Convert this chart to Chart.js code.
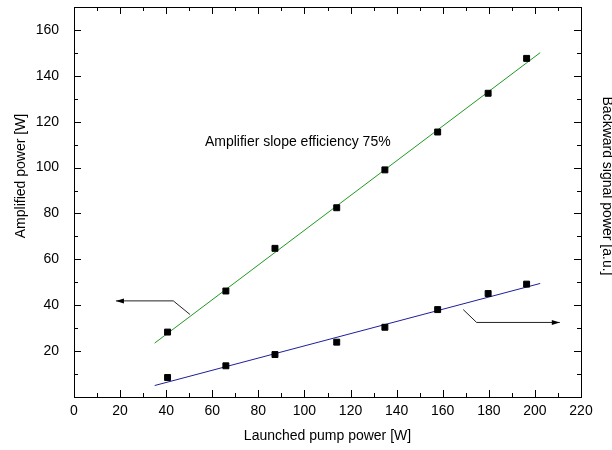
<!DOCTYPE html>
<html>
<head>
<meta charset="utf-8">
<script src="https://cdn.jsdelivr.net/npm/chart.js@4.4.0/dist/chart.umd.min.js"></script>
<style>
  html, body { margin: 0; padding: 0; background: #fff; }
</style>
</head>
<body>
<canvas id="ampChart" width="612" height="450"></canvas>
<script>
// measured points
const pumpPower = [40.6, 65.9, 87.2, 114.0, 134.9, 157.8, 179.7, 196.4];
const amplifiedPower = [28.3, 46.2, 64.8, 82.5, 99.0, 115.5, 132.4, 147.6];
const backwardSignal = [8.5, 13.6, 18.5, 23.9, 30.4, 38.1, 45.1, 49.2];

// linear fits (start / end)
const fitX = [35.0, 202.3];
const amplifiedFit = [23.5, 150.1];
const backwardFit = [5.0, 49.5];

// arrows pointing to the axis of each curve (last point = tip)
const leftArrowX = [50.3, 43.1, 18.2];
const leftArrowY = [36.0, 41.9, 41.9];
const rightArrowX = [168.9, 174.7, 210.8];
const rightArrowY = [38.1, 32.5, 32.5];

// tick labels
const xTickValues = [0, 20, 40, 60, 80, 100, 120, 140, 160, 180, 200, 220];
const yTickValues = [20, 40, 60, 80, 100, 120, 140, 160];

const noteText = 'Amplifier slope efficiency 75%';
const noteAt = [56.8, 111.3];

const FONT = '"Liberation Sans", Arial, sans-serif';
Chart.defaults.font.family = FONT;
Chart.defaults.color = '#000';

const toPoints = (xs, ys) => xs.map((v, i) => ({ x: v, y: ys[i] }));

// frame with inward ticks, arrows and texts
const frameTicks = {
  id: 'frameTicks',
  afterDraw(chart) {
    const { ctx, chartArea: a } = chart;
    const xs = chart.scales.x;
    const ys = chart.scales.y;
    ctx.save();
    ctx.strokeStyle = '#000';
    ctx.lineWidth = 1;
    ctx.strokeRect(a.left + 0.5, a.top + 0.5, a.right - a.left, a.bottom - a.top);

    ctx.beginPath();
    for (let v = 10; v < 220; v += 10) {
      const len = v % 20 === 0 ? 7 : 4;
      const px = Math.round(xs.getPixelForValue(v)) + 0.5;
      ctx.moveTo(px, a.bottom); ctx.lineTo(px, a.bottom - len);
      ctx.moveTo(px, a.top); ctx.lineTo(px, a.top + len);
    }
    for (let v = 10; v < 170; v += 10) {
      const len = v % 20 === 0 ? 7 : 4;
      const py = Math.round(ys.getPixelForValue(v)) + 0.5;
      ctx.moveTo(a.left, py); ctx.lineTo(a.left + len, py);
      ctx.moveTo(a.right, py); ctx.lineTo(a.right - len, py);
    }
    ctx.stroke();

    // arrows
    const drawArrow = (axs, ays) => {
      const pts = axs.map((v, i) => [xs.getPixelForValue(v), ys.getPixelForValue(ays[i])]);
      ctx.strokeStyle = '#222';
      ctx.fillStyle = '#000';
      ctx.beginPath();
      pts.forEach((p, i) => i ? ctx.lineTo(p[0], p[1]) : ctx.moveTo(p[0], p[1]));
      ctx.stroke();
      const [tx, ty] = pts[pts.length - 1];
      const [bx, by] = pts[pts.length - 2];
      const ang = Math.atan2(ty - by, tx - bx);
      ctx.save();
      ctx.translate(tx, ty);
      ctx.rotate(ang);
      ctx.beginPath();
      ctx.moveTo(0, 0);
      ctx.lineTo(-8, -2.5);
      ctx.lineTo(-8, 2.5);
      ctx.closePath();
      ctx.fill();
      ctx.restore();
    };
    drawArrow(leftArrowX, leftArrowY);
    drawArrow(rightArrowX, rightArrowY);

    // note
    ctx.fillStyle = '#000';
    ctx.font = '14px ' + FONT;
    ctx.textAlign = 'left';
    ctx.textBaseline = 'middle';
    ctx.fillText(noteText, xs.getPixelForValue(noteAt[0]), ys.getPixelForValue(noteAt[1]));

    // axis titles (left and right)
    ctx.textAlign = 'center';
    ctx.save();
    ctx.translate(21, 176);
    ctx.rotate(-Math.PI / 2);
    ctx.fillText('Amplified power [W]', 0, 0);
    ctx.restore();
    ctx.save();
    ctx.translate(607, 186);
    ctx.rotate(Math.PI / 2);
    ctx.fillText('Backward signal power [a.u.]', 0, 0);
    ctx.restore();
    ctx.restore();
  }
};

new Chart(document.getElementById('ampChart'), {
  type: 'scatter',
  data: {
    datasets: [
      {
        label: 'Amplified power',
        data: toPoints(pumpPower, amplifiedPower),
        pointStyle: 'rect',
        pointRadius: 4.2,
        backgroundColor: '#000',
        borderColor: '#000',
        borderWidth: 1
      },
      {
        label: 'Backward signal',
        data: toPoints(pumpPower, backwardSignal),
        pointStyle: 'rect',
        pointRadius: 4.2,
        backgroundColor: '#000',
        borderColor: '#000',
        borderWidth: 1
      },
      {
        label: 'Amplified fit',
        data: toPoints(fitX, amplifiedFit),
        showLine: true,
        borderColor: '#1f9a1f',
        borderWidth: 1,
        pointRadius: 0
      },
      {
        label: 'Backward fit',
        data: toPoints(fitX, backwardFit),
        showLine: true,
        borderColor: '#1e1e9c',
        borderWidth: 1,
        pointRadius: 0
      }
    ]
  },
  options: {
    responsive: false,
    animation: false,
    layout: { padding: { top: 7, right: 31, left: 0, bottom: 0 } },
    plugins: {
      legend: { display: false },
      tooltip: { enabled: false }
    },
    scales: {
      x: {
        type: 'linear',
        position: 'bottom',
        min: 0,
        max: 220,
        afterBuildTicks: s => { s.ticks = xTickValues.map(v => ({ value: v })); },
        afterFit: s => { s.height = 53; s.paddingLeft = 0; s.paddingRight = 0; },
        grid: { display: false },
        border: { display: false },
        ticks: { padding: -2, font: { size: 14 }, maxRotation: 0, autoSkip: false },
        title: {
          display: true,
          text: 'Launched pump power [W]',
          font: { size: 14 },
          padding: { top: 0, bottom: 5 }
        }
      },
      y: {
        type: 'linear',
        position: 'left',
        min: 0,
        max: 170,
        afterBuildTicks: s => { s.ticks = yTickValues.map(v => ({ value: v })); },
        afterFit: s => { s.width = 74; s.paddingTop = 0; s.paddingBottom = 0; },
        grid: { display: false },
        border: { display: false },
        ticks: { padding: 7, font: { size: 14 }, autoSkip: false }
      }
    }
  },
  plugins: [frameTicks]
});
</script>
</body>
</html>
